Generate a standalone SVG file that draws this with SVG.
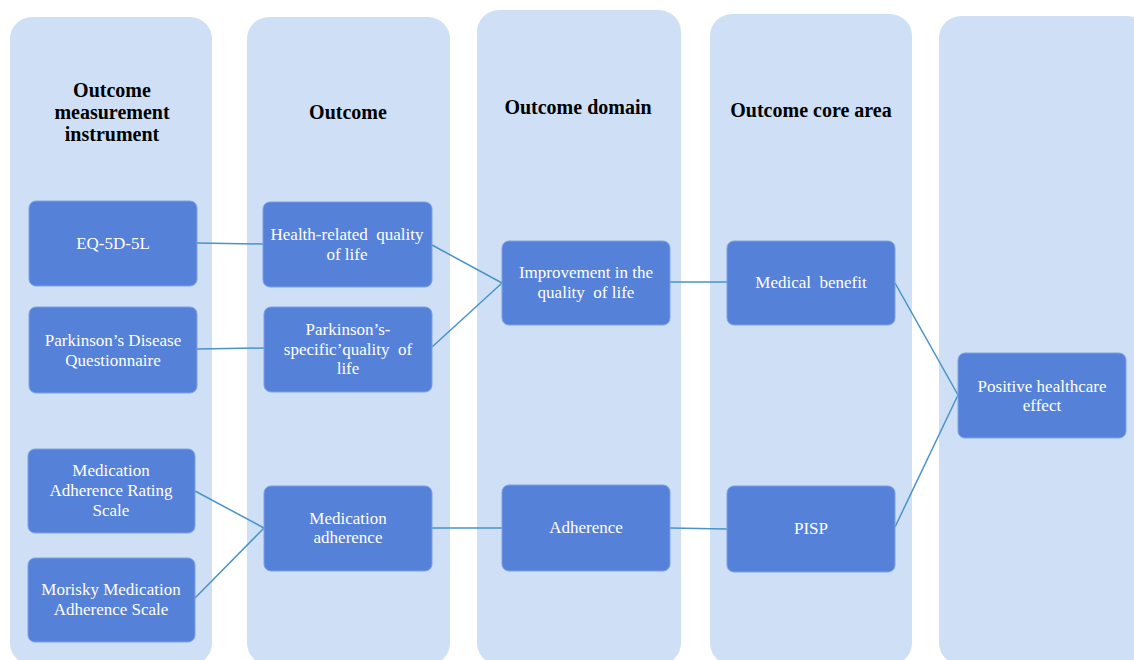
<svg xmlns="http://www.w3.org/2000/svg" width="1134" height="660" viewBox="0 0 1134 660">
<style>
.lane{fill:#cfe0f6;}
.node{fill:#5681d8;stroke:#7aa0e6;stroke-width:1;}
.hdr{font-family:"Liberation Serif",serif;font-weight:bold;font-size:20px;fill:#000;text-anchor:middle;}
.t{font-family:"Liberation Serif",serif;font-size:17px;fill:#fff;text-anchor:middle;}
.c{stroke:#4a92c8;stroke-width:1.5;fill:none;}
</style>
<rect width="1134" height="660" fill="#fff"/>
<g id="lanes">
<rect class="lane" x="10" y="17" width="202" height="648" rx="22"/>
<rect class="lane" x="247" y="17" width="203" height="648" rx="22"/>
<rect class="lane" x="477" y="10" width="204" height="655" rx="22"/>
<rect class="lane" x="710" y="14" width="202" height="651" rx="22"/>
<rect class="lane" x="939" y="16" width="210" height="649" rx="22"/>
<text class="hdr" x="112" y="97">Outcome</text>
<text class="hdr" x="112" y="119">measurement</text>
<text class="hdr" x="112" y="141">instrument</text>
<text class="hdr" x="348" y="119">Outcome</text>
<text class="hdr" x="578" y="114">Outcome domain</text>
<text class="hdr" x="811" y="117">Outcome core area</text>
</g>
<g id="connectors">
<line class="c" x1="197" y1="243" x2="263" y2="244"/>
<line class="c" x1="197" y1="349" x2="264" y2="348"/>
<line class="c" x1="432" y1="245" x2="502" y2="283"/>
<line class="c" x1="432" y1="347" x2="502" y2="283"/>
<line class="c" x1="195" y1="491" x2="264" y2="528"/>
<line class="c" x1="195" y1="598" x2="264" y2="528"/>
<line class="c" x1="432" y1="528" x2="502" y2="528"/>
<line class="c" x1="670" y1="282" x2="727" y2="282"/>
<line class="c" x1="670" y1="528" x2="727" y2="529"/>
<line class="c" x1="895" y1="283" x2="958" y2="395"/>
<line class="c" x1="895" y1="527" x2="958" y2="395"/>
</g>
<g id="n-eq5d"><rect class="node" x="29" y="201" width="168" height="85" rx="7"/><text class="t" x="113" y="249">EQ-5D-5L</text></g>
<g id="n-pdq"><rect class="node" x="29" y="307" width="168" height="86" rx="7"/><text class="t" x="113" y="346">Parkinson’s Disease</text><text class="t" x="113" y="366">Questionnaire</text></g>
<g id="n-mars"><rect class="node" x="28" y="449" width="167" height="84" rx="7"/><text class="t" x="111" y="476">Medication</text><text class="t" x="111" y="496">Adherence Rating</text><text class="t" x="111" y="516">Scale</text></g>
<g id="n-morisky"><rect class="node" x="28" y="558" width="167" height="84" rx="7"/><text class="t" x="111" y="595">Morisky Medication</text><text class="t" x="111" y="615">Adherence Scale</text></g>
<g id="n-hrqol"><rect class="node" x="263" y="202" width="169" height="85" rx="7"/><text class="t" x="347" y="240" xml:space="preserve">Health-related  quality</text><text class="t" x="347" y="260">of life</text></g>
<g id="n-pdqol"><rect class="node" x="264" y="307" width="168" height="85" rx="7"/><text class="t" x="348" y="335">Parkinson’s-</text><text class="t" x="348" y="355" xml:space="preserve">specific’quality  of</text><text class="t" x="348" y="374">life</text></g>
<g id="n-medadh"><rect class="node" x="264" y="486" width="168" height="85" rx="7"/><text class="t" x="348" y="524">Medication</text><text class="t" x="348" y="543">adherence</text></g>
<g id="n-improve"><rect class="node" x="502" y="241" width="168" height="84" rx="7"/><text class="t" x="586" y="278">Improvement in the</text><text class="t" x="586" y="298" xml:space="preserve">quality  of life</text></g>
<g id="n-adh"><rect class="node" x="502" y="485" width="168" height="86" rx="7"/><text class="t" x="586" y="533">Adherence</text></g>
<g id="n-medben"><rect class="node" x="727" y="241" width="168" height="84" rx="7"/><text class="t" x="811" y="288" xml:space="preserve">Medical  benefit</text></g>
<g id="n-pisp"><rect class="node" x="727" y="486" width="168" height="86" rx="7"/><text class="t" x="811" y="534">PISP</text></g>
<g id="n-positive"><rect class="node" x="958" y="353" width="168" height="85" rx="7"/><text class="t" x="1042" y="392">Positive healthcare</text><text class="t" x="1042" y="411">effect</text></g>
</svg>
